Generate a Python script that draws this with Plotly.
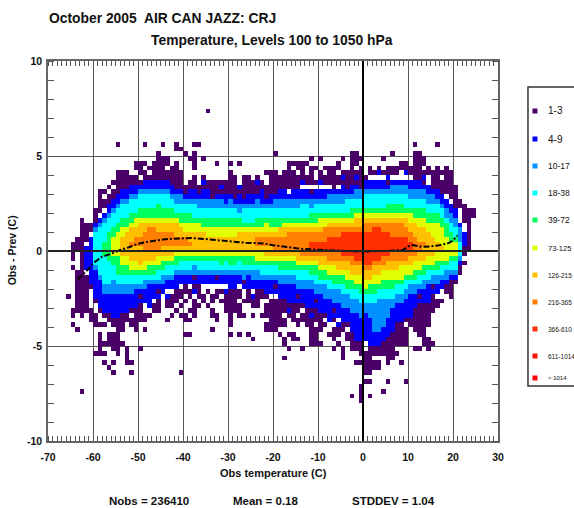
import plotly.graph_objects as go

FONT = "Liberation Sans"
W, H = 574, 508
LEFT, RIGHT, TOP, BOTTOM = 47.7, 498.0, 61.0, 441.0

X_RANGE = [-70, 30]
Y_RANGE = [-10, 10]
X_TICKS = [-70, -60, -50, -40, -30, -20, -10, 0, 10, 20, 30]
Y_TICKS = [-10, -5, 0, 5, 10]

LEVEL_COLORS = ["#4b0069", "#0000ff", "#0090ff", "#00ffff", "#00ff60",
                "#e0ff00", "#ffc000", "#ff8000", "#ff3000"]
LEGEND_COLORS = ["#4b0069", "#0000ff", "#0090ff", "#00ffff", "#00ff60", "#e0ff00",
                 "#ffc000", "#ff8000", "#ff3000", "#ff1000", "#ff0000"]
LEGEND_LABELS = ["1-3", "4-9", "10-17", "18-38", "39-72", "73-125",
                 "126-215", "216-365", "366-610", "611-1014", "> 1014"]

# Band edges per 1-degree column, in quarter-degree rows.
BLUE_X0 = -62
BLUE_TOP = [1,3,6,7,8,10,11,12,13,13, 14,14,14,15,15,15,15,15,15,14,
            13,13,13,13,13,12,13,13,12,12, 12,12,12,12,12,11,12,12,12,13,
            12,12,12,13,13,12,13,13,13,13, 13,13,13,13,13,14,13,14,14,14,
            14,14,15,15,15,15,15,16,15,15, 15,15,15,15,15,14,14,13,13,12,
            11,10,9,6,4]
BLUE_BOT = [-4,-7,-10,-12,-13,-13,-14,-14,-13,-13, -12,-12,-11,-11,-11,-10,-10,-9,-8,-8,
            -8,-7,-7,-7,-7,-7,-7,-7,-7,-7, -7,-7,-8,-8,-7,-8,-8,-8,-8,-8,
            -9,-9,-9,-10,-10,-11,-11,-11,-11,-12, -12,-12,-13,-13,-14,-14,-14,-15,-15,-17,
            -19,-19,-19,-20,-20,-20,-19,-18,-16,-15, -14,-14,-13,-12,-11,-11,-10,-9,-8,-7,
            -7,-6,-6,-3,1]

LTBLUE_X0 = -60
LTBLUE_TOP = [5,6,7,8,9,10,11,11, 12,12,13,13,13,13,13,13,13,12,
              12,12,11,11,11,11,11,11,11,11, 11,10,11,10,10,10,10,10,11,10,
              10,10,11,11,11,11,11,11,11,11, 11,11,11,11,12,12,12,12,12,12,
              13,13,13,13,13,13,13,13,14,14, 14,14,13,13,13,13,12,12,11,10,
              9,8,7,5]
LTBLUE_BOT = [-4,-6,-9,-9,-9,-9,-9,-9, -9,-8,-8,-8,-7,-7,-7,-7,-6,-6,
              -5,-5,-5,-5,-5,-5,-5,-5,-5,-5, -5,-5,-5,-5,-5,-6,-5,-6,-6,-6,
              -6,-6,-6,-7,-7,-7,-7,-8,-8,-8, -8,-9,-9,-10,-10,-11,-11,-12,-12,-13,
              -13,-14,-13,-14,-17,-17,-16,-14,-12,-11, -11,-10,-9,-9,-8,-8,-7,-7,-7,-6,
              -6,-5,-5,-2]

CYAN_X0 = -60
CYAN_TOP = [4,5,6,7,8,9,10,10, 11,11,12,12,12,12,12,12,12,11,
            10,10,10,10,10,9,9,9,9,9, 9,9,9,9,8,9,9,9,9,9,
            9,9,9,9,9,9,9,9,10,10, 9,10,10,10,10,10,10,10,11,11,
            11,11,12,12,12,12,12,12,12,12, 12,12,11,11,11,11,10,10,10,9,
            7,6,5,2]
CYAN_BOT = [-3,-5,-7,-7,-6,-7,-7,-7, -7,-7,-7,-6,-6,-6,-6,-5,-5,-5,
            -4,-4,-4,-4,-3,-4,-4,-4,-4,-4, -4,-4,-4,-4,-4,-4,-4,-4,-4,-5,
            -5,-5,-5,-5,-5,-5,-5,-6,-6,-6, -6,-7,-7,-7,-8,-8,-8,-9,-9,-10,
            -10,-11,-11,-11,-11,-10,-10,-10,-10,-9, -9,-8,-7,-7,-7,-6,-6,-5,-5,-5,
            -4,-4,-4,-1]

GREEN_X0 = -58
GREEN_TOP = [2,4,5,6,7,7, 8,8,9,9,9,9,10,9,9,9,
             8,8,8,8,7,7,7,7,7,7, 7,7,7,7,7,6,6,6,7,7,
             7,7,7,7,7,7,7,7,7,7, 8,8,8,8,8,8,8,8,8,9,
             9,9,9,9,9,9,9,10,10,10, 10,9,9,9,9,9,8,8,8,7,
             6,4,3]
GREEN_BOT = [-1,-2,-3,-5,-5,-5, -5,-5,-5,-5,-5,-5,-4,-4,-3,-3,
             -3,-2,-2,-2,-2,-2,-2,-2,-2,-2, -3,-2,-3,-3,-2,-3,-3,-3,-3,-3,
             -3,-3,-3,-4,-4,-4,-4,-4,-4,-4, -5,-5,-6,-6,-6,-7,-7,-7,-8,-8,
             -8,-9,-9,-9,-9,-8,-8,-8,-8,-7, -7,-6,-6,-6,-5,-5,-4,-4,-4,-3,
             -3,-2,-2]

YELLOW_X0 = -56
YELLOW_TOP = [3,4,5,5, 6,7,7,7,7,7,7,7,7,7,
              7,6,6,6,6,6,5,5,5,5, 5,5,5,5,5,5,5,5,5,5,
              6,5,5,5,6,6,6,6,6,6, 6,6,7,7,7,7,7,7,7,7,
              8,8,8,8,8,8,8,8,8,8, 8,8,8,7,7,7,6,6,6,5,
              3,2,2]
YELLOW_BOT = [-1,-1,-3,-3, -4,-4,-4,-4,-3,-3,-3,-2,-2,-2,
              -1,-1,-1,-1,-1,-1,-1,-1,-1,-1, -1,-1,-1,-1,-1,-1,-1,-1,-2,-2,
              -2,-2,-2,-2,-2,-2,-2,-3,-3,-3, -3,-3,-4,-4,-5,-5,-5,-5,-6,-6,
              -7,-7,-8,-7,-7,-7,-6,-6,-6,-6, -6,-5,-5,-4,-4,-3,-3,-3,-2,-2,
              -2,-1,-1]

GOLD_X0 = -54
GOLD_TOP = [3,4, 5,5,6,6,6,6,6,6,6,6,
            6,5,4,4,4,4,4,3,3,3, 3,3,3,3,4,4,4,4,4,4,
            4,4,4,5,5,5,5,5,5,5, 5,5,5,5,6,6,6,6,6,6,
            7,7,7,7,7,7,7,7,7,7, 7,7,6,6,5,5,4,3,2,1]
GOLD_BOT = [-1,-1, -2,-2,-3,-2,-2,-2,-1,-1,-1,-1,
            0,0,0,0,0,0,0,0,0,0, 0,0,0,0,0,0,0,0,0,0,
            -1,-1,-1,-1,-1,-1,-1,-2,-2,-2, -2,-2,-3,-3,-3,-3,-4,-4,-4,-5,
            -5,-5,-6,-6,-5,-5,-4,-4,-4,-4, -3,-3,-3,-2,-2,-2,-1,-1,0,0]

ORANGE_X0 = -52
ORANGE_TOP = [2,3,3,4,5,5,4,4,4,4, 3,3,3,2,0,0,0,0,0,0,
              0,0,0,0,0,0,0,0,3,3, 3,3,3,3,3,4,4,4,4,4,
              4,4,4,5,5,5,5,5,5,5, 5,5,6,6,6,6,6,6,6,6,
              6,5,4,3,2,2]
ORANGE_BOT = [1,1,1,0,0,0,0,1,1,1, 1,1,1,1,0,0,0,0,0,0,
              0,0,0,0,0,0,0,0,1,1, 1,1,0,0,0,0,0,0,-1,-1,
              -1,-1,-1,-1,-2,-2,-2,-2,-2,-3, -3,-3,-4,-4,-3,-3,-3,-2,-2,-2,
              -2,-2,-1,-1,0,1]

RED_X0 = -12
RED_TOP = [2,2,2,2,3,3,3,4,4,4, 4,4,4,4,5,5,4,4,3,3, 3,3,2]
RED_BOT = [0,0,0,0,0,0,0,-1,-1,-1, -2,-2,-3,-3,-2,-2,-1,-1,0,0, 0,0,0]

# Scattered lowest-count cells: quarter-degree row -> 1-degree columns.
SPARSE_CELLS = {
    29: [-35],
    22: [-55,-49,-45,-42,-38,-37,11,16],
    21: [-42,-41],
    20: [-46,-40,-38,-20,-3,-2,6,11,12],
    19: [-46,-45,-44,-39,-38,-36,-12,-10,-5,-3,-2,-1,4,11,12,13],
    18: [-51,-50,-49,-47,-46,-45,-44,-42,-38,-33,-30,-28,-17,-16,-15,-14,-13,-6,-3,-2,8,9,11,12,13],
    17: [-51,-50,-48,-47,-46,-45,-43,-42,-38,-17,-15,-14,-12,-11,-9,-8,-7,-6,-3,-1,1,3,5,6,7,8,9,10,11,12,14,16,18],
    16: [-55,-54,-53,-50,-49,-47,-46,-45,-44,-43,-42,-41,-30,-22,-21,-20,-18,-17,-16,-14,-12,-10,-8,-7,-5,-4,-3,-2,-1,
         1,2,3,4,5,6,7,10,11,12,13,14,15,16,17,18,19],
    15: [-55,-54,-53,-52,-51,-49,-48,-47,-46,-45,-44,-43,-42,-41,-38,-36,-30,-29,-27,-26,-24,-21,-20,-19,-18,-17,-16,-15,
         -14,-13,-12,-10,-9,-8,-7,-6,-5,-4,-3,-2,-1,0,5,11,12,13,15,16,18,19],
    14: [-56,-55,-54,-53,-52,-51,-50,-49,-48,-47,-46,-45,-44,-43,-42,-41,-39,-38,-36,-35,-34,-33,-32,-31,-30,-29,-27,-26,
         -25,-24,-23,-21,-20,-19,-18,-17,-16,-15,-14,-13,-12,-11,-10,-9,-8,-7,-6,-5,-4,-3,-2,-1,11,12,13,15,16,17,18,19],
    13: [-57,-55,-54,-53,-43,-42,-41,-40,-39,-38,-37,-36,-35,-34,-33,-32,-31,-30,-29,-28,-27,-26,-25,-24,-23,-22,-21,-20,
         -19,-18,-17,-16,-15,15,16,17,18,19,20],
    12: [-59,-58,-56,-55,-37,-34,-33,-32,-31,-30,-29,-28,-27,-26,-25,-24,-22,-21,-20,17,18,19,20],
    11: [-59,-57,-56,-27,19,20],
    10: [-59,-58,-57,20,21],
    9: [-59,-58,20,21,22],
    8: [-60,-59,22,23,24],
    7: [-60,22,23,24],
    6: [-63,-60,22,23],
    5: [-63,-62,-61,23],
    4: [-63,-62,-61,23],
    3: [-63,-62,22,23],
    2: [-64,-63,-62,22,23],
    1: [-65,-64,-63,22,23],
    0: [-65,-64,-63,22,23],
    -1: [-65,-63,21,22],
    -2: [-65,-63,21],
    -3: [-63,21,22],
    -4: [-65,-63,21],
    -5: [-64,-63,20,21],
    -6: [-64,-63,-62,20],
    -7: [-64,-63,-62,-61,-43,-42,-40,-38,-37,-36,17,18,19,20],
    -8: [-64,-63,-62,-61,-60,-43,-42,-40,-38,-37,15,16,17,18,19],
    -9: [-64,-63,-62,-60,-47,-46,-45,-42,-41,-40,-39,-38,-37,-35,-33,-32,-31,-30,-29,-28,-26,-24,-23,15,16,18,19],
    -10: [-66,-64,-63,-62,-60,-49,-48,-47,-46,-44,-43,-42,-41,-39,-37,-36,-34,-33,-31,-30,-29,-28,-26,-25,-24,-23,-22,13,14,15,19],
    -11: [-64,-63,-62,-60,-59,-50,-49,-48,-46,-44,-43,-42,-40,-38,-36,-34,-32,-31,-30,-29,-27,-26,-25,-24,-21,-20,-19,-18,-17,-16,
          -15,-14,11,12,13,14,15,16,17],
    -12: [-64,-63,-62,-59,-52,-51,-50,-48,-47,-46,-44,-43,-41,-38,-37,-35,-31,-30,-29,-28,-25,-24,-22,-21,-20,-19,-18,-17,-16,-15,
          -14,-13,9,10,11,12,13,14,15,16],
    -13: [-65,-64,-63,-62,-61,-59,-58,-57,-56,-55,-54,-53,-52,-51,-50,-47,-46,-42,-39,-38,-34,-31,-30,-29,-28,-22,-21,-20,-19,-18,
          -17,-16,-15,-13,-12,-11,-9,8,9,10,11,12,13,14,15],
    -14: [-65,-63,-61,-60,-58,-57,-56,-55,-54,-53,-51,-50,-49,-48,-43,-41,-40,-38,-34,-33,-30,-28,-27,-25,-23,-22,-21,-20,-19,-17,
          -16,-14,-13,-12,-11,-10,-9,-8,7,8,9,10,11,12,13,14],
    -15: [-61,-60,-57,-56,-55,-54,-53,-52,-51,-50,-49,-44,-40,-39,-33,-30,-21,-20,-19,-18,-16,-15,-14,-13,-12,-11,-10,-8,-7,
          7,8,9,10,11,12,13,14],
    -16: [-65,-60,-59,-58,-56,-55,-54,-52,-51,-30,-22,-21,-20,-19,-18,-15,-13,-12,-10,-9,-6,-5,-4,-3,7,8,10,11,12,13,14],
    -17: [-64,-55,-54,-51,-49,-34,-22,-21,-20,-12,-11,-10,-7,-6,-5,-3,6,7,8,9,11,12,13],
    -18: [-59,-57,-56,-55,-40,-39,-30,-28,-26,-19,-17,-16,-12,-11,-8,-7,-6,-4,-3,3,4,5,6,7,8,9,12,13],
    -19: [-59,-57,-56,-55,-25,-18,-16,-15,-12,-11,-7,-4,-3,-2,3,4,5,6,7,8,9,13,14],
    -20: [-59,-58,-57,-56,-55,-54,-18,-12,-11,-10,-6,-3,-2,-1,1,2,3,4,5,6,7,8,9,13,14,15],
    -21: [-59,-56,-55,-53,-50,-17,-14,-7,-5,-3,-2,-1,1,2,3,4,5,6,11,12,14],
    -22: [-60,-59,-58,-55,-53,-5,-1,0,1,2,3,4,5,6,7],
    -23: [-53,-18,-5,0,1,5,6],
    -24: [-58,-56,-53,-52,-2,-1,0,1,2,3,5,8],
    -25: [-57,0,1,2,3],
    -26: [-56,-52,-41,0,1],
    -28: [0,1,5,9],
    -29: [-1],
    -30: [-63,-1,4],
    -31: [-3,-1,1],
    -32: [-1],
}

# Isolated 4-9 cells standing out in the fringe, and 1-3 cells inside the blue band.
BLUE_SPECK_X = [-36,-32,-28,-24,-14,-10,-5,-2,3,9,13,-48,-44,-38,-31,-25,-17,-12,-8,-6,6,8,10,14,16,17]
BLUE_SPECK_Q = [14,13,13,14,14,14,15,15,16,16,15,-12,-10,-9,-9,-10,-13,-14,-15,-16,-17,-15,-14,-11,-9,-8]
PURPLE_SPECK_X = [-40,-34,-29,-22,-12,-7,-4,-38,-33,-27,-20,-15,-11,-7,-50,-46,12,15,-1,5]
PURPLE_SPECK_Q = [12,11,11,11,12,13,13,-6,-6,-7,-8,-10,-11,-13,-10,-9,-10,-8,13,14]

MEAN_X = [-63.4,-62,-61,-60,-59,-58,-56,-54,-52,-50,-48,-46,-44,-42,-40,-38,-36,-34,-32,-30,-28,-26,-24,-22,
          -20,-18,-16,-14,-12,-10,-8,-6,-4,-2,-1,0,1,3,5,7,9,10,11,13,15,17,19,20,21]
MEAN_Y = [-1.5,-1.2,-0.95,-0.65,-0.45,-0.3,-0.15,0.05,0.2,0.38,0.48,0.55,0.62,0.65,0.66,0.68,0.65,0.6,
          0.55,0.5,0.46,0.43,0.42,0.4,0.3,0.22,0.18,0.12,0.08,0.07,0.05,0.03,0.0,-0.02,-0.05,-0.03,-0.02,
          -0.02,0.0,0.03,0.06,0.24,0.32,0.22,0.24,0.3,0.42,0.55,0.82]

TITLE_1 = "October 2005  AIR CAN JAZZ: CRJ"
TITLE_2 = "Temperature, Levels 100 to 1050 hPa"
X_TITLE = "Obs temperature (C)"
Y_TITLE = "Obs - Prev (C)"
STATS = ["Nobs = 236410", "Mean = 0.18", "STDDEV = 1.04"]

BANDS = [
    (2, BLUE_X0, BLUE_TOP, BLUE_BOT), (3, LTBLUE_X0, LTBLUE_TOP, LTBLUE_BOT),
    (4, CYAN_X0, CYAN_TOP, CYAN_BOT), (5, GREEN_X0, GREEN_TOP, GREEN_BOT),
    (6, YELLOW_X0, YELLOW_TOP, YELLOW_BOT), (7, GOLD_X0, GOLD_TOP, GOLD_BOT),
    (8, ORANGE_X0, ORANGE_TOP, ORANGE_BOT), (9, RED_X0, RED_TOP, RED_BOT),
]

cols = list(range(-70, 30))
rows = list(range(-40, 40))
grid = {}
for q, xs in SPARSE_CELLS.items():
    for x in xs:
        grid[(x, q)] = 1
for level, x0, tops, bots in BANDS:
    assert len(tops) == len(bots), (level, len(tops), len(bots))
    for i, (t, b) in enumerate(zip(tops, bots)):
        for q in range(b, t):
            grid[(x0 + i, q)] = level
for x, q in zip(BLUE_SPECK_X, BLUE_SPECK_Q):
    grid[(x, q)] = 2
for x, q in zip(PURPLE_SPECK_X, PURPLE_SPECK_Q):
    grid[(x, q)] = 1
z = [[grid.get((x, q)) for x in cols] for q in rows]

n = len(LEVEL_COLORS)
colorscale = []
for i, c in enumerate(LEVEL_COLORS):
    colorscale += [[i / n, c], [(i + 1) / n, c]]

fig = go.Figure()
fig.add_trace(go.Heatmap(x=[c + 0.5 for c in cols], y=[(q + 0.5) / 4 for q in rows], z=z,
                         zmin=0.5, zmax=n + 0.5, colorscale=colorscale, showscale=False,
                         hoverinfo="skip"))
fig.add_trace(go.Scatter(x=MEAN_X, y=MEAN_Y, mode="lines", hoverinfo="skip",
                         line=dict(color="black", width=2, dash="6px,2px,2px,2px")))


def px(x):
    return (x - LEFT) / (RIGHT - LEFT)


def py(y):
    return (BOTTOM - y) / (BOTTOM - TOP)


def note(text, x, y, size, anchor="left", bold=True, angle=None):
    fig.add_annotation(text=f"<b>{text}</b>" if bold else text, xref="paper", yref="paper",
                       x=px(x), y=py(y), xanchor=anchor, yanchor="middle", showarrow=False,
                       font=dict(family=FONT, size=size, color="#111"), textangle=angle)


note(TITLE_1, 47, 18, 13.85)
note(TITLE_2, 149, 40, 13.85)
note(X_TITLE, 218, 473, 11)
note(Y_TITLE, 12, 250, 10.5, anchor="center", angle=-90)
note(STATS[0], 107, 501, 11.5)
note(STATS[1], 231, 501, 11.5)
note(STATS[2], 350, 501, 11.5)

shapes = [
    dict(type="line", xref="x", yref="paper", x0=0, x1=0, y0=0, y1=1, line=dict(color="black", width=2), layer="above"),
    dict(type="line", xref="paper", yref="y", x0=0, x1=1, y0=0, y1=0, line=dict(color="#222", width=2), layer="above"),
    dict(type="rect", xref="paper", yref="paper", x0=px(528), x1=px(600), y0=py(87), y1=py(386),
         line=dict(color="#333", width=1.5), fillcolor="white"),
]
LEGEND_Y = [111, 139, 166, 193, 220, 248, 275, 302, 329, 356, 378]
LEGEND_SIZE = [10, 10, 8.5, 8.5, 8.5, 7.5, 6.5, 6.5, 6.5, 6.5, 6]
for label, color, ly, size in zip(LEGEND_LABELS, LEGEND_COLORS, LEGEND_Y, LEGEND_SIZE):
    shapes.append(dict(type="rect", xref="paper", yref="paper", x0=px(532.5), x1=px(537.5),
                       y0=py(ly + 2.5), y1=py(ly - 2.5), line=dict(width=0), fillcolor=color))
    note(label, 546, ly, size, bold=False)

axis = dict(showgrid=True, gridcolor="#555", gridwidth=1, zeroline=False, showline=True,
            linecolor="#666", linewidth=1.5, mirror="allticks", ticks="", showticklabels=True,
            tickfont=dict(family=FONT, size=10.5, color="#111", weight="bold"))
fig.update_layout(
    width=W, height=H, autosize=False, showlegend=False, plot_bgcolor="white", paper_bgcolor="white",
    margin=dict(l=LEFT, r=W - RIGHT, t=TOP, b=H - BOTTOM, pad=0), shapes=shapes,
    xaxis=dict(axis, range=X_RANGE, tickvals=X_TICKS, ticktext=[str(v) for v in X_TICKS], ticklabelstandoff=6,
               minor=dict(dtick=1, ticks="inside", ticklen=5, tickcolor="#555", tickwidth=1, showgrid=False)),
    yaxis=dict(axis, range=Y_RANGE, tickvals=Y_TICKS, ticktext=[str(v) for v in Y_TICKS], ticklabelstandoff=2,
               minor=dict(dtick=1, ticks="inside", ticklen=6, tickcolor="#555", tickwidth=1, showgrid=False)),
)
fig.write_html("out.html", config={"displayModeBar": False},
               post_script="document.body.style.margin='0';document.documentElement.style.overflow='hidden';")
